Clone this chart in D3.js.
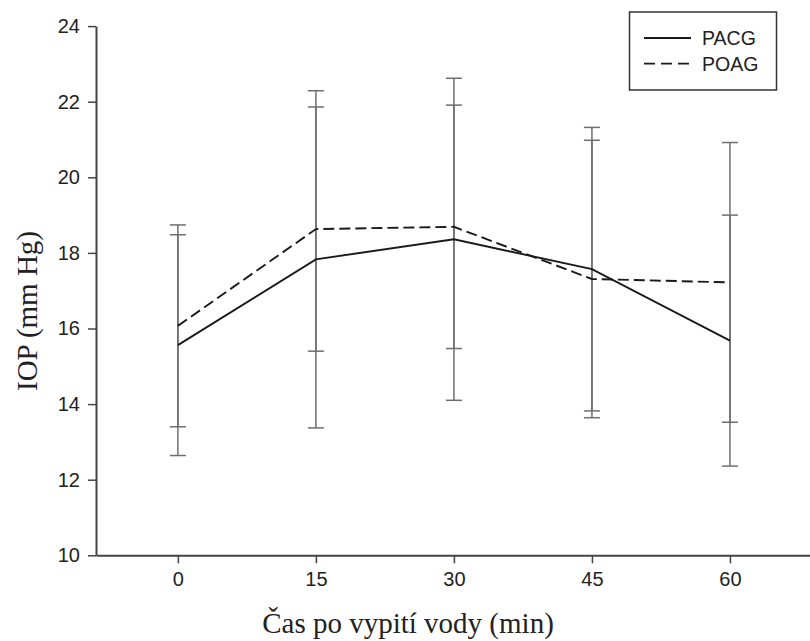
<!DOCTYPE html>
<html>
<head>
<meta charset="utf-8">
<script src="https://cdn.jsdelivr.net/npm/d3@7/dist/d3.min.js"></script>
<style>
  body { margin: 0; background: #fff; }
  svg { display: block; }
</style>
</head>
<body>
<script>
var width = 810,
    height = 641;

// data
var times = [0, 15, 30, 45, 60];
var pacgMean = [15.56, 17.83, 18.36, 17.57, 15.68];
var pacgSd   = [2.92, 4.46, 4.26, 3.75, 3.32];
var poagMean = [16.07, 18.63, 18.69, 17.31, 17.22];
var poagSd   = [2.67, 3.23, 3.22, 3.67, 3.70];
var yTicks = [10, 12, 14, 16, 18, 20, 22, 24];
var seriesNames = ["PACG", "POAG"];

var series = [
  { name: seriesNames[0], mean: pacgMean, sd: pacgSd, dash: null },
  { name: seriesNames[1], mean: poagMean, sd: poagSd, dash: "11,5" }
];

var svg = d3.select("body")
    .append("svg")
    .attr("width", width)
    .attr("height", height);

var x = d3.scaleLinear()
    .domain([-8.9, 68.7])
    .range([96, 810]);

var y = d3.scaleLinear()
    .domain([10, 24])
    .range([555.3, 26.1]);

var axisColor = "#444";

// y axis
var yAxis = svg.append("g")
    .attr("transform", "translate(" + x.range()[0] + ",0)")
    .call(d3.axisLeft(y).tickValues(yTicks).tickSize(8).tickPadding(8).tickSizeOuter(0));

// x axis
var xAxis = svg.append("g")
    .attr("transform", "translate(0," + y.range()[0] + ")")
    .call(d3.axisBottom(x).tickValues(times).tickSize(8).tickPadding(9).tickSizeOuter(0));

[yAxis, xAxis].forEach(function(ax) {
  ax.select(".domain").attr("stroke", axisColor).attr("stroke-width", 2);
  ax.selectAll(".tick line").attr("stroke", axisColor).attr("stroke-width", 1.5);
  ax.selectAll(".tick text")
    .attr("fill", "#222")
    .style("font-family", "'Liberation Sans', Arial, sans-serif")
    .style("font-size", "20px");
});

// error bars
var capHalf = 8;
series.forEach(function(s) {
  var g = svg.append("g")
      .attr("stroke", "#6e6e6e")
      .attr("stroke-width", 1.5)
      .attr("fill", "none");

  var pts = times.map(function(t, i) {
    return { t: t, lo: s.mean[i] - s.sd[i], hi: s.mean[i] + s.sd[i] };
  });

  g.selectAll(".bar")
    .data(pts)
    .enter().append("line")
      .attr("x1", function(d) { return x(d.t); })
      .attr("x2", function(d) { return x(d.t); })
      .attr("y1", function(d) { return y(d.lo); })
      .attr("y2", function(d) { return y(d.hi); });

  g.selectAll(".capHi")
    .data(pts)
    .enter().append("line")
      .attr("x1", function(d) { return x(d.t) - capHalf; })
      .attr("x2", function(d) { return x(d.t) + capHalf; })
      .attr("y1", function(d) { return y(d.hi); })
      .attr("y2", function(d) { return y(d.hi); });

  g.selectAll(".capLo")
    .data(pts)
    .enter().append("line")
      .attr("x1", function(d) { return x(d.t) - capHalf; })
      .attr("x2", function(d) { return x(d.t) + capHalf; })
      .attr("y1", function(d) { return y(d.lo); })
      .attr("y2", function(d) { return y(d.lo); });
});

// mean lines
var line = d3.line()
    .x(function(d) { return x(d[0]); })
    .y(function(d) { return y(d[1]); });

series.forEach(function(s) {
  svg.append("path")
    .datum(times.map(function(t, i) { return [t, s.mean[i]]; }))
    .attr("fill", "none")
    .attr("stroke", "#1a1a1a")
    .attr("stroke-width", 1.9)
    .attr("stroke-dasharray", s.dash)
    .attr("d", line);
});

// legend
var legend = svg.append("g");
legend.append("rect")
    .attr("x", 629.5)
    .attr("y", 12)
    .attr("width", 147)
    .attr("height", 78)
    .attr("fill", "#fff")
    .attr("stroke", "#333")
    .attr("stroke-width", 1.5);

series.forEach(function(s, i) {
  var ly = 38 + i * 25.6;
  legend.append("line")
    .attr("x1", 644)
    .attr("x2", 691)
    .attr("y1", ly)
    .attr("y2", ly)
    .attr("stroke", "#1a1a1a")
    .attr("stroke-width", 1.8)
    .attr("stroke-dasharray", s.dash ? "11,6" : null);
  legend.append("text")
    .attr("x", 702)
    .attr("y", ly + 7)
    .attr("fill", "#222")
    .style("font-family", "'Liberation Sans', Arial, sans-serif")
    .style("font-size", "19.5px")
    .text(s.name);
});

// axis titles
svg.append("text")
    .attr("x", 408)
    .attr("y", 633)
    .attr("text-anchor", "middle")
    .attr("fill", "#222")
    .style("font-family", "'Liberation Serif', 'Times New Roman', serif")
    .style("font-size", "29px")
    .text("Čas po vypití vody (min)");

svg.append("text")
    .attr("transform", "translate(37,311) rotate(-90)")
    .attr("text-anchor", "middle")
    .attr("fill", "#222")
    .style("font-family", "'Liberation Serif', 'Times New Roman', serif")
    .style("font-size", "29px")
    .text("IOP (mm Hg)");
</script>
</body>
</html>
